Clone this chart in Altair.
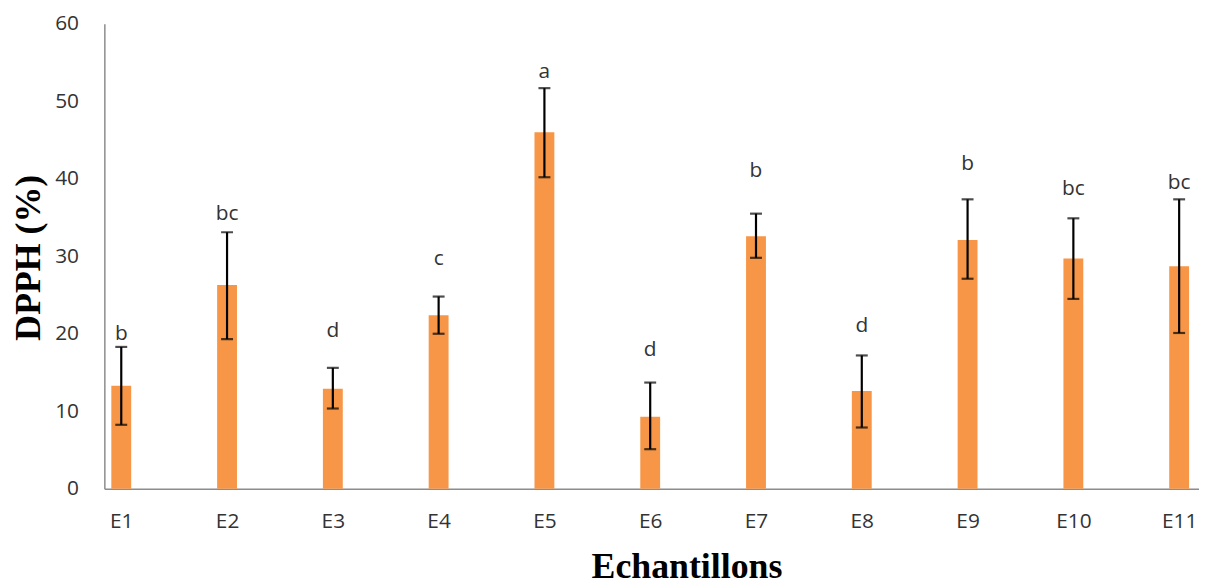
import altair as alt
import pandas as pd

samples = ["E1", "E2", "E3", "E4", "E5", "E6", "E7", "E8", "E9", "E10", "E11"]
dpph = [13.3, 26.3, 12.9, 22.4, 46.0, 9.3, 32.6, 12.6, 32.1, 29.7, 28.7]
err_low = [8.25, 19.3, 10.35, 20.0, 40.2, 5.1, 29.8, 7.9, 27.1, 24.5, 20.1]
err_high = [18.3, 33.1, 15.6, 24.8, 51.7, 13.7, 35.5, 17.2, 37.35, 34.9, 37.35]
letters = ["b", "bc", "d", "c", "a", "d", "b", "d", "b", "bc", "bc"]
letter_y = [19.9, 35.5, 20.3, 29.7, 53.8, 17.9, 41.0, 21.0, 41.9, 38.7, 39.5]

df = pd.DataFrame({
    "sample": samples,
    "dpph": dpph,
    "lo": err_low,
    "hi": err_high,
    "letter": letters,
    "ly": letter_y,
})

FONT = "Open Sans"
TXT = "#333333"

x_enc = alt.X(
    "sample:N",
    sort=samples,
    scale=alt.Scale(type="point", padding=0.1737, align=0.46),
    axis=alt.Axis(
        title="Echantillons",
        titleFont="Liberation Serif",
        titleFontSize=36,
        titleFontWeight="bold",
        titleColor="#000000",
        titleX=586,
        titleY=89,
        titleAlign="center",
        titleBaseline="alphabetic",
        labelFont=FONT,
        labelFontSize=21,
        labelColor=TXT,
        labelPadding=22,
        labelAngle=0,
        ticks=False,
        domainColor="#8c8c8c",
        domainWidth=1.5,
        grid=False,
    ),
)

y_scale = alt.Scale(domain=[0, 60], nice=False)
y_axis = alt.Axis(
    title="DPPH (%)",
    titleFont="Liberation Serif",
    titleFontSize=36,
    titleFontWeight="bold",
    titleColor="#000000",
    titleX=-65,
    titleY=235,
    titleAlign="center",
    titleBaseline="alphabetic",
    titleAngle=270,
    values=[0, 10, 20, 30, 40, 50, 60],
    labelFont=FONT,
    labelFontSize=21,
    labelColor=TXT,
    labelPadding=26,
    ticks=False,
    domainColor="#8c8c8c",
    domainWidth=1.5,
    grid=False,
)

base = alt.Chart(df)

bars = base.mark_bar(size=20, color="#F79646").encode(
    x=x_enc,
    y=alt.Y("dpph:Q", scale=y_scale, axis=y_axis),
)

rules = base.mark_rule(color="#000000", strokeWidth=2.2).encode(
    x=alt.X("sample:N", sort=samples),
    y="lo:Q",
    y2="hi:Q",
)

caps_hi = base.mark_tick(color="#000000", thickness=2.2, size=12, orient="horizontal").encode(
    x=alt.X("sample:N", sort=samples),
    y="hi:Q",
)
caps_lo = base.mark_tick(color="#000000", thickness=2.2, size=12, orient="horizontal").encode(
    x=alt.X("sample:N", sort=samples),
    y="lo:Q",
)

text = base.mark_text(font=FONT, fontSize=21, color=TXT, baseline="middle", align="center").encode(
    x=alt.X("sample:N", sort=samples),
    y="ly:Q",
    text="letter:N",
)

chart = (
    alt.layer(bars, rules, caps_hi, caps_lo, text)
    .properties(
        width=1102,
        height=468,
        autosize=alt.AutoSizeParams(type="none"),
        padding={"left": 97, "top": 14, "right": 0, "bottom": 96},
        background="white",
    )
    .configure_view(stroke=None)
)

chart.save("out.html", embed_options={"renderer": "svg", "actions": False})
